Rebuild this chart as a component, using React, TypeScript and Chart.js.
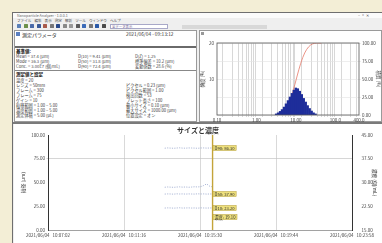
import React, { useEffect, useRef } from "react";
import { Chart, registerables } from "chart.js";
Chart.register(...registerables);

const FONT = "'Noto Sans CJK JP', 'Noto Sans', sans-serif";
Chart.defaults.font.family = FONT;

// ---------- histogram (top right) ----------
const HIST_LOG_CENTERS = [0.50, 0.55, 0.60, 0.65, 0.70, 0.75, 0.80, 0.85, 0.90, 0.95, 1.00, 1.05, 1.10, 1.15, 1.20, 1.25, 1.30, 1.35, 1.40, 1.45, 1.50];
const HIST_FREQ = [0.3, 0.6, 1.0, 1.5, 2.2, 3.1, 4.0, 5.0, 6.0, 6.9, 7.5, 7.3, 6.6, 5.7, 4.6, 3.6, 2.6, 1.8, 1.1, 0.6, 0.3];
const CUM_LOG_X = [0.475, 0.525, 0.575, 0.625, 0.675, 0.725, 0.775, 0.825, 0.875, 0.925, 0.975, 1.025, 1.075, 1.125, 1.175, 1.225, 1.275, 1.325, 1.375, 1.425, 1.475, 1.525, 1.65];
const CUM_PCT = [0, 0.4, 1.2, 2.6, 4.7, 7.7, 12.0, 17.6, 24.5, 32.8, 42.3, 52.7, 62.8, 71.9, 79.8, 86.2, 91.1, 94.7, 97.2, 98.8, 99.6, 100, 100];
const HIST_DECADES = [-1, 0, 1, 2];
const HIST_MAX_UM = 400;
const FREQ_TICKS = [0, 10, 20];
const CUM_TICKS = [0, 25, 50, 75, 100];

// ---------- time series (bottom) ----------
const TIME_TICK_SEC = [0, 254, 508, 762, 1016];
const TIME_TICK_LABELS = [
  "2021/06/04   10:07:02",
  "2021/06/04   10:11:16",
  "2021/06/04   10:15:30",
  "2021/06/04   10:19:44",
  "2021/06/04   10:23:58",
];
const SIZE_TICKS = [0, 25, 50, 75, 100];
const CONC_TICKS = [15, 22.5, 30, 37.5, 45];
const SAMPLE_SEC = [390, 400, 410, 420, 430, 440, 450, 460, 470, 480, 490, 500, 510, 520, 530, 540, 550];
const D90 = [86.1, 86.4, 86.2, 86.0, 86.3, 86.5, 86.2, 86.1, 86.4, 86.3, 86.2, 86.0, 86.3, 86.4, 86.2, 86.3, 86.3];
const MEAN = [45.0, 45.3, 45.1, 44.9, 45.2, 45.4, 45.1, 45.3, 45.0, 45.2, 45.5, 45.3, 45.6, 46.8, 48.5, 46.2, 45.3];
const D50 = [37.8, 38.0, 37.9, 37.7, 38.1, 37.9, 38.0, 37.8, 38.0, 37.9, 37.8, 38.1, 37.9, 38.0, 37.8, 37.9, 37.9];
const D10 = [23.1, 23.3, 23.2, 23.0, 23.2, 23.4, 23.1, 23.2, 23.3, 23.1, 23.2, 23.0, 23.3, 23.2, 23.1, 23.2, 23.2];
const CONC = [19.0, 19.2, 19.1, 19.0, 19.1, 19.3, 19.1, 19.0, 19.2, 19.1, 19.0, 19.2, 19.1, 19.0, 19.1, 19.2, 19.1];

// ---------- text panel ----------
const REF_ROWS = [
  ["Mean = 37.4 (µm)", "D(10) = 9.41 (µm)", "D(Z) = 1.25"],
  ["Mode = 36.3 (µm)", "D(50) = 31.8 (µm)", "標準偏差 = 10.2 (µm)"],
  ["Conc. = 3.00E7 (個/mL)", "D(90) = 72.4 (µm)", "変動係数 = 28.6 (%)"],
];
const LEFT_SETTINGS = [
  "温度 = 20",
  "レンズ = 50mm",
  "フレーム = 300",
  "フレーム = 75",
  "ゲイン = 10",
  "粒径範囲 = 1.00 ~ 5.00",
  "濃度範囲 = 1.00 ~ 5.00",
  "測定体積 = 5.00 (µL)",
];
const RIGHT_SETTINGS = [
  "ピクセル = 0.23 (µm)",
  "ピクセル範囲 = 1.00",
  "検出回数 = 53",
  "ブレット長さ = 100",
  "最小サイズ = 0.10 (µm)",
  "最大サイズ = 1000.00 (µm)",
  "位置設定 = オン",
];
const MENU_ITEMS = ["ファイル", "編集", "表示", "測定", "解析", "ツール", "ウィンドウ", "ヘルプ"];

function fmtUm(v: number) {
  const u = Math.pow(10, v);
  return u >= 100 ? u.toFixed(1) : u.toFixed(2);
}

const framePlugin = {
  id: "frame",
  afterDraw(chart: any) {
    const a = chart.chartArea;
    const ctx = chart.ctx;
    ctx.save();
    ctx.strokeStyle = "#555";
    ctx.lineWidth = 0.8;
    ctx.strokeRect(a.left, a.top, a.right - a.left, a.bottom - a.top);
    ctx.restore();
  },
};

const tagPlugin = {
  id: "tags",
  afterDatasetsDraw(chart: any) {
    const ctx = chart.ctx;
    const a = chart.chartArea;
    const lx = chart.scales.x.getPixelForValue(SAMPLE_SEC[SAMPLE_SEC.length - 1]);
    ctx.save();
    ctx.strokeStyle = "#c4a43a";
    ctx.lineWidth = 1.4;
    ctx.beginPath();
    ctx.moveTo(lx, a.top);
    ctx.lineTo(lx, a.bottom);
    ctx.stroke();
    chart.data.datasets.forEach((ds: any, i: number) => {
      if (!ds.tag) return;
      const meta = chart.getDatasetMeta(i);
      const el = meta.data[meta.data.length - 1];
      const v = ds.data[ds.data.length - 1].y;
      const text = `${ds.label}: ${v.toFixed(2)}`;
      ctx.font = `4.2px ${FONT}`;
      const w = ctx.measureText(text).width + 3;
      const h = 5;
      ctx.fillStyle = "#eee07c";
      ctx.fillRect(el.x + 0.5, el.y - h / 2, w, h);
      ctx.strokeStyle = "#b39c35";
      ctx.lineWidth = 0.5;
      ctx.strokeRect(el.x + 0.5, el.y - h / 2, w, h);
      ctx.fillStyle = "#2a2a2a";
      ctx.textBaseline = "middle";
      ctx.fillText(text, el.x + 2, el.y + 0.3);
    });
    ctx.restore();
  },
};

function HistChart() {
  const ref = useRef<HTMLCanvasElement>(null);
  useEffect(() => {
    const maxLog = Math.log10(HIST_MAX_UM);
    const chart = new Chart(ref.current!, {
      type: "bar",
      data: {
        datasets: [
          {
            type: "bar",
            data: HIST_LOG_CENTERS.map((x, i) => ({ x, y: HIST_FREQ[i] })),
            backgroundColor: "#1e2d9a",
            borderColor: "#27359e",
            borderWidth: 0,
            barPercentage: 1,
            categoryPercentage: 1,
            yAxisID: "y",
            order: 0,
          } as any,
          {
            type: "line",
            data: CUM_LOG_X.map((x, i) => ({ x, y: CUM_PCT[i] })),
            borderColor: "#e67a6a",
            borderWidth: 0.8,
            pointRadius: 0,
            yAxisID: "y1",
            order: 1,
          } as any,
        ],
      },
      options: {
        animation: false,
        responsive: false,
        devicePixelRatio: 1,
        layout: { padding: { top: 9, left: 0, right: 0, bottom: 0 } },
        plugins: { legend: { display: false }, tooltip: { enabled: false } },
        scales: {
          x: {
            type: "linear",
            min: HIST_DECADES[0],
            max: maxLog,
            offset: false,
            afterBuildTicks: (s: any) => {
              const t: any[] = [];
              HIST_DECADES.forEach((d) => {
                for (let k = 1; k <= 9; k++) {
                  const v = d + Math.log10(k);
                  if (v < maxLog - 0.01) t.push({ value: v });
                }
              });
              t.push({ value: maxLog });
              s.ticks = t;
            },
            afterFit: (s: any) => { s.height = 9; },
            ticks: {
              autoSkip: false,
              maxRotation: 0,
              padding: 1,
              font: { size: 4.5 },
              color: "#444",
              callback: (v: any) => {
                const n = Number(v);
                if (HIST_DECADES.includes(n) || Math.abs(n - maxLog) < 1e-6) return fmtUm(n);
                return "";
              },
            },
            grid: { color: "#bdbdbd", lineWidth: 0.6, tickLength: 2 },
            border: { display: false },
          },
          y: {
            position: "left",
            min: 0,
            max: 20,
            afterBuildTicks: (s: any) => { s.ticks = FREQ_TICKS.map((v) => ({ value: v })); },
            afterFit: (s: any) => { s.width = 18; },
            ticks: { font: { size: 4.5 }, color: "#444", padding: 1, callback: (v: any) => (Number(v) === 0 ? "" : String(v)) },
            grid: { display: false, tickLength: 2 },
            border: { display: false },
            title: { display: true, text: "頻度 (%)", font: { size: 4.5 }, color: "#333", padding: { top: 1, bottom: 1 } },
          },
          y1: {
            position: "right",
            min: 0,
            max: 100,
            afterBuildTicks: (s: any) => { s.ticks = CUM_TICKS.map((v) => ({ value: v })); },
            afterFit: (s: any) => { s.width = 23; },
            ticks: { font: { size: 4.5 }, color: "#444", padding: 1, callback: (v: any) => Number(v).toFixed(2) },
            grid: { color: "#e2e2e2", lineWidth: 0.6, tickLength: 2 },
            border: { display: false },
            title: { display: true, text: "積算 (%)", font: { size: 4.5 }, color: "#333", padding: { top: 1, bottom: 1 } },
          },
        },
      },
      plugins: [framePlugin],
    });
    return () => chart.destroy();
  }, []);
  return <canvas ref={ref} width={183} height={90} style={{ position: "absolute", left: 199, top: 34, width: 183, height: 90 }} />;
}

function TimeChart() {
  const ref = useRef<HTMLCanvasElement>(null);
  useEffect(() => {
    const mk = (label: string, vals: number[], axis: string, tag: boolean, line = true) => ({
      label,
      data: SAMPLE_SEC.map((x, i) => ({ x, y: vals[i] })),
      yAxisID: axis,
      borderColor: "#8b9bc6",
      borderWidth: 0.7,
      borderDash: [1.2, 1.2],
      pointRadius: 0,
      showLine: line,
      tag,
    });
    const chart = new Chart(ref.current!, {
      type: "line",
      data: {
        datasets: [
          mk("D90", D90, "y", true),
          mk("Mean", MEAN, "y", false),
          mk("D50", D50, "y", true),
          mk("D10", D10, "y", true),
          mk("濃度", CONC, "y1", true, false),
        ] as any,
      },
      options: {
        animation: false,
        responsive: false,
        devicePixelRatio: 1,
        layout: { padding: 0 },
        plugins: {
          legend: { display: false },
          tooltip: { enabled: false },
          title: {
            display: true,
            text: "サイズと濃度",
            font: { size: 7, weight: "bold" },
            color: "#333",
            padding: { top: 2, bottom: 0.6 },
          },
        },
        scales: {
          x: {
            type: "linear",
            min: TIME_TICK_SEC[0],
            max: TIME_TICK_SEC[TIME_TICK_SEC.length - 1],
            afterBuildTicks: (s: any) => { s.ticks = TIME_TICK_SEC.map((v) => ({ value: v })); },
            afterFit: (s: any) => { s.height = 13; },
            ticks: {
              autoSkip: false,
              maxRotation: 0,
              padding: 3,
              font: { size: 4.5 },
              color: "#444",
              callback: (v: any) => TIME_TICK_LABELS[TIME_TICK_SEC.indexOf(Number(v))],
            },
            grid: {
              drawTicks: false,
              lineWidth: 0.7,
              color: (c: any) => {
                const v = c.tick ? c.tick.value : -1;
                return v === TIME_TICK_SEC[0] || v === TIME_TICK_SEC[TIME_TICK_SEC.length - 1] ? "rgba(0,0,0,0)" : "#c9c9c9";
              },
            },
            border: { display: true, color: "#8a8a8a", width: 0.8 },
          },
          y: {
            position: "left",
            min: 0,
            max: 100,
            afterBuildTicks: (s: any) => { s.ticks = SIZE_TICKS.map((v) => ({ value: v })); },
            afterFit: (s: any) => { s.width = 34; },
            ticks: { font: { size: 4.5 }, color: "#444", padding: 1.5, callback: (v: any) => Number(v).toFixed(2) },
            grid: {
              drawTicks: true,
              tickLength: 1.5,
              lineWidth: 0.7,
              color: (c: any) => (c.tick && c.tick.value === 75 ? "#c4c4c4" : "rgba(0,0,0,0)"),
            },
            border: { display: true, color: "#333", width: 1 },
            title: { display: true, text: "粒径 (µm)", font: { size: 4.8 }, color: "#333", padding: { top: 6, bottom: 1 } },
          },
          y1: {
            position: "right",
            min: 15,
            max: 45,
            afterBuildTicks: (s: any) => { s.ticks = CONC_TICKS.map((v) => ({ value: v })); },
            afterFit: (s: any) => { s.width = 30; },
            ticks: { font: { size: 4.5 }, color: "#444", padding: 1.5, callback: (v: any) => Number(v).toFixed(2) },
            grid: { display: false },
            border: { display: true, color: "#333", width: 1 },
            title: { display: true, text: "濃度 (個/mL)", font: { size: 4.8 }, color: "#333", padding: { top: 4, bottom: 1 } },
          },
        },
      },
      plugins: [tagPlugin],
    });
    return () => chart.destroy();
  }, []);
  return <canvas ref={ref} width={368} height={119} style={{ position: "absolute", left: 14, top: 124, width: 368, height: 119 }} />;
}

function T(props: { x: number; y: number; s?: number; b?: boolean; c?: string; children: React.ReactNode }) {
  return (
    <div
      style={{
        position: "absolute",
        left: props.x,
        top: props.y,
        fontSize: props.s ?? 4.3,
        fontWeight: props.b ? 700 : 400,
        color: props.c ?? "#3a3a3a",
        lineHeight: 1,
        whiteSpace: "nowrap",
      }}
    >
      {props.children}
    </div>
  );
}

function Box(props: { x: number; y: number; w: number; h: number; bg?: string; border?: string }) {
  return (
    <div
      style={{
        position: "absolute",
        left: props.x,
        top: props.y,
        width: props.w,
        height: props.h,
        background: props.bg ?? "transparent",
        border: props.border,
        boxSizing: "border-box",
      }}
    />
  );
}

const TOOL_COLORS = ["#5a7fb8", "#6b8f4a", "#4a6aa8", "#3a5a98", "#a85a4a", "#777", "#2a4a8a", "#888", "#999", "#5a5a5a", "#3a6ab8", "#777", "#2a5aa8", "#4a4a4a"];

export default function App() {
  return (
    <div
      style={{
        position: "fixed",
        left: 0,
        top: 0,
        width: 382,
        height: 243,
        overflow: "hidden",
        background: "#f3eed6",
        fontFamily: FONT,
      }}
    >
      {/* application window */}
      <Box x={12} y={12} w={380} h={240} bg="#efefef" border="1px solid #6f6f6f" />
      <Box x={13} y={13} w={369} h={5} bg="#fbfbfb" />
      <T x={17} y={13.5} s={3.6} c="#666">Nanoparticle Analyzer - 1.0.0.1</T>
      <T x={358} y={13} s={4} c="#555">–   ▫   ✕</T>
      <div style={{ position: "absolute", left: 17, top: 18.5, display: "flex", gap: 3 }}>
        {MENU_ITEMS.map((m) => (
          <span key={m} style={{ fontSize: 3.6, color: "#444", lineHeight: 1 }}>{m}</span>
        ))}
      </div>
      <div style={{ position: "absolute", left: 17, top: 24, display: "flex", gap: 2.5 }}>
        {TOOL_COLORS.map((c, i) => (
          <div key={i} style={{ width: 4, height: 4, background: c, borderRadius: 0.5 }} />
        ))}
      </div>
      <Box x={110} y={24} w={58} h={4.5} bg="#fff" border="0.5px solid #a8a8c8" />
      <T x={112} y={24.5} s={3.4} c="#7a6a9a">全データ表示</T>
      <Box x={182} y={25} w={85} h={4} bg="#d8d8d8" />

      {/* left text panel */}
      <Box x={14} y={30} w={183} h={92} bg="#fff" border="1px solid #9a9a9a" />
      <Box x={16} y={32} w={4} h={4} bg="#5b7fc0" />
      <T x={22} y={31.5} s={5} c="#222">測定パラメータ</T>
      <T x={126} y={32} s={4.8} c="#333">2021/06/04 - 09:13:12</T>
      <Box x={15} y={46} w={181} h={1.5} bg="#6a6a6a" />
      <T x={16} y={49} s={4.5} b c="#111">基準値:</T>
      {REF_ROWS.map((row, r) =>
        row.map((txt, c) => (
          <T key={`${r}-${c}`} x={[16, 78, 135][c]} y={54 + r * 5} s={4.2} c="#444">{txt}</T>
        ))
      )}
      <Box x={15} y={70} w={181} h={1} bg="#888" />
      <T x={16} y={72} s={4.5} b c="#111">測定値と設定</T>
      {LEFT_SETTINGS.map((t, i) => (
        <T key={t + i} x={16} y={77.5 + i * 5} s={4.2}>{t}</T>
      ))}
      {RIGHT_SETTINGS.map((t, i) => (
        <T key={t + i} x={126} y={82.5 + i * 5} s={4.2}>{t}</T>
      ))}

      {/* right histogram panel */}
      <Box x={199} y={30} w={183} h={92} bg="#fff" border="1px solid #9a9a9a" />
      <Box x={201} y={32} w={3} h={3} bg="#999" />
      <HistChart />

      {/* bottom time-series panel */}
      <Box x={13} y={121.5} w={369} h={2} bg="#7a7a7a" />
      <Box x={14} y={123.5} w={368} h={120} bg="#fff" />
      <TimeChart />
    </div>
  );
}
